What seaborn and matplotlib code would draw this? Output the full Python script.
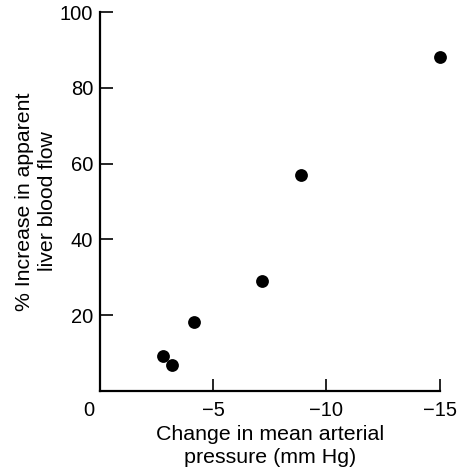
import matplotlib
matplotlib.use("Agg")
import matplotlib.pyplot as plt
import seaborn as sns
import pandas as pd
from matplotlib.transforms import ScaledTranslation

# values
pressure_change = [-15.0, -8.9, -7.15, -4.15, -2.8, -3.2]
flow_increase = [88.0, 57.0, 29.0, 18.3, 9.3, 6.8]
x_ticks = [0, -5, -10, -15]
x_tick_labels = ["0", "\u22125", "\u221210", "\u221215"]
y_ticks = [20, 40, 60, 80, 100]

df = pd.DataFrame({"pressure": pressure_change, "flow": flow_increase})

sns.set_style("ticks", {"xtick.direction": "in", "ytick.direction": "in",
                        "text.color": "black", "axes.labelcolor": "black",
                        "xtick.color": "black", "ytick.color": "black",
                        "axes.edgecolor": "black"})
plt.rcParams["font.family"] = ["Liberation Sans", "DejaVu Sans"]

fig = plt.figure(figsize=(4.58, 4.71), dpi=100)
ax = fig.add_axes([100 / 458, 1 - 391 / 471, 339.5 / 458, 379 / 471])

sns.scatterplot(data=df, x="pressure", y="flow", ax=ax, color="black",
                edgecolor="black", s=85, linewidth=0, legend=False, clip_on=False)

ax.set_xlim(0, -15)
ax.set_ylim(0, 100)
ax.set_xticks(x_ticks)
ax.set_xticklabels(x_tick_labels)
ax.set_yticks(y_ticks)

sns.despine(ax=ax)
for side in ["left", "bottom"]:
    ax.spines[side].set_linewidth(1.6)

ax.tick_params(axis="both", direction="in", length=9, width=1.2,
               labelsize=14.5, colors="black", pad=5)
ax.tick_params(axis="x", pad=7)

# the shared origin label sits a little left of the axis corner
lbl0 = ax.get_xticklabels()[0]
lbl0.set_transform(lbl0.get_transform() + ScaledTranslation(-11 / 100, 0, fig.dpi_scale_trans))

ax.set_xlabel("Change in mean arterial\npressure (mm Hg)", fontsize=15.4,
              labelpad=4, color="black", linespacing=1.25)
ax.set_ylabel("% Increase in apparent\nliver blood flow", fontsize=15.3,
              labelpad=2, color="black", linespacing=1.25)

fig.savefig("out.png", dpi=100)
plt.close()
